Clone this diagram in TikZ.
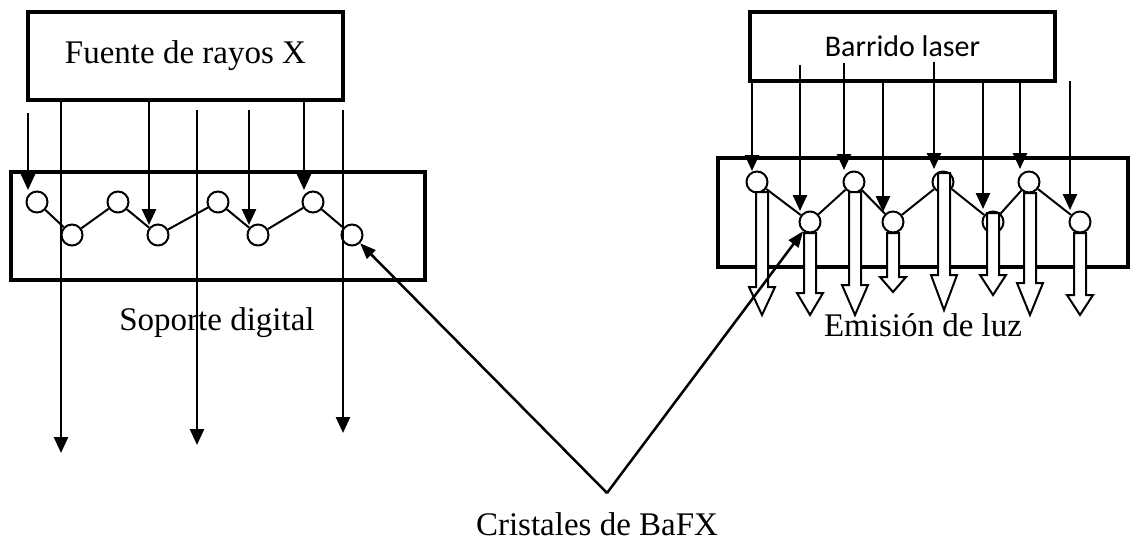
\documentclass[tikz,border=0pt]{standalone}
\usepackage{fontspec}
\setmainfont{Liberation Serif}
\newfontfamily\laserfont{Carlito}
\usetikzlibrary{arrows.meta, positioning}

\begin{document}
\begin{tikzpicture}[
    x=1pt, y=-1pt,
    box/.style={rectangle, draw, line width=3.5pt, inner sep=0pt},
    crystal/.style={circle, draw, fill=white, line width=2pt, minimum size=21pt, inner sep=0pt},
    ray/.style={line width=2.5pt, -{Triangle[length=16pt, width=14pt]}},
    link/.style={line width=2pt},
    pointer/.style={line width=2.5pt, -{Triangle[length=16pt, width=12pt]}},
    txt/.style={font=\fontsize{33}{36}\selectfont, inner sep=1pt},
    light/.style={draw, fill=white, line width=2pt, line join=miter}
]
\useasboundingbox (0,0) rectangle (1133,541);

% left: x-ray exposure
\node[box, minimum width=315pt, minimum height=88pt, txt] (src) at (185.5,56) {Fuente de rayos X};
\node[box, minimum width=414pt, minimum height=108pt] (plateL) at (218,226) {};
\node[txt] (soporte) at (217,323) {Soporte digital};

\node[crystal] (L1) at (37,202) {};
\node[crystal] (L2) at (72,235) {};
\node[crystal] (L3) at (118,202) {};
\node[crystal] (L4) at (158,235) {};
\node[crystal] (L5) at (218,202) {};
\node[crystal] (L6) at (258,235) {};
\node[crystal] (L7) at (313,202) {};
\node[crystal] (L8) at (352,235) {};
\draw[link] (L1) -- (L2) -- (L3) -- (L4) -- (L5) -- (L6) -- (L7) -- (L8);

\draw[ray] (28,113) -- (28,190);
\draw[ray] (src.south -| 61,0) -- (61,453);
\draw[ray] (src.south -| 149,0) -- (149,225);
\draw[ray] (197,110) -- (197,445);
\draw[ray] (249,110) -- (249,225);
\draw[ray] (src.south -| 304,0) -- (304,190);
\draw[ray] (343,110) -- (343,433);

% right: laser read-out
\node[box, minimum width=305pt, minimum height=69pt, font=\laserfont\fontsize{30}{33}\selectfont] (laser) at (902.5,46.5) {Barrido laser};
\node[box, minimum width=410pt, minimum height=109pt] (plateR) at (923,212.5) {};
\node[txt] (emision) at (923,325) {Emisión de luz};

\node[crystal] (R1) at (757,182) {};
\node[crystal] (R2) at (810,222) {};
\node[crystal] (R3) at (854,182) {};
\node[crystal] (R4) at (893,222) {};
\node[crystal] (R5) at (943,182) {};
\node[crystal] (R6) at (993,222) {};
\node[crystal] (R7) at (1029,182) {};
\node[crystal] (R8) at (1080,222) {};
\draw[link] (R1) -- (R2) -- (R3) -- (R4) -- (R5) -- (R6) -- (R7) -- (R8);

\draw[ray] (laser.south -| 752,0) -- (752,171);
\draw[ray] (800,65) -- (800,211);
\draw[ray] (844,63) -- (844,170);
\draw[ray] (laser.south -| 883,0) -- (883,212);
\draw[ray] (934,62) -- (934,169);
\draw[ray] (laser.south -| 983,0) -- (983,209);
\draw[ray] (laser.south -| 1020,0) -- (1020,169);
\draw[ray] (1070,81) -- (1070,210);

% emitted light
\foreach \x/\ya/\yh/\yt in {762/192/287/315, 810/233/293/315, 855/192/285/315, 893/233/277/292,
    944/173/275/310, 993/213/275/295, 1030/193/283/315, 1080/233/295/315}
  \draw[light] (\x-6,\ya) -- (\x+6,\ya) -- (\x+6,\yh) -- (\x+13,\yh) -- (\x,\yt)
    -- (\x-13,\yh) -- (\x-6,\yh) -- cycle;

% crystals label
\node[txt, anchor=base, text depth=0pt] (cristales) at (597,535) {Cristales de BaFX};
\coordinate (vtx) at (607,493);
\draw[pointer] (vtx) -- (L8);
\draw[pointer] (vtx) -- (R2);
\end{tikzpicture}
\end{document}
